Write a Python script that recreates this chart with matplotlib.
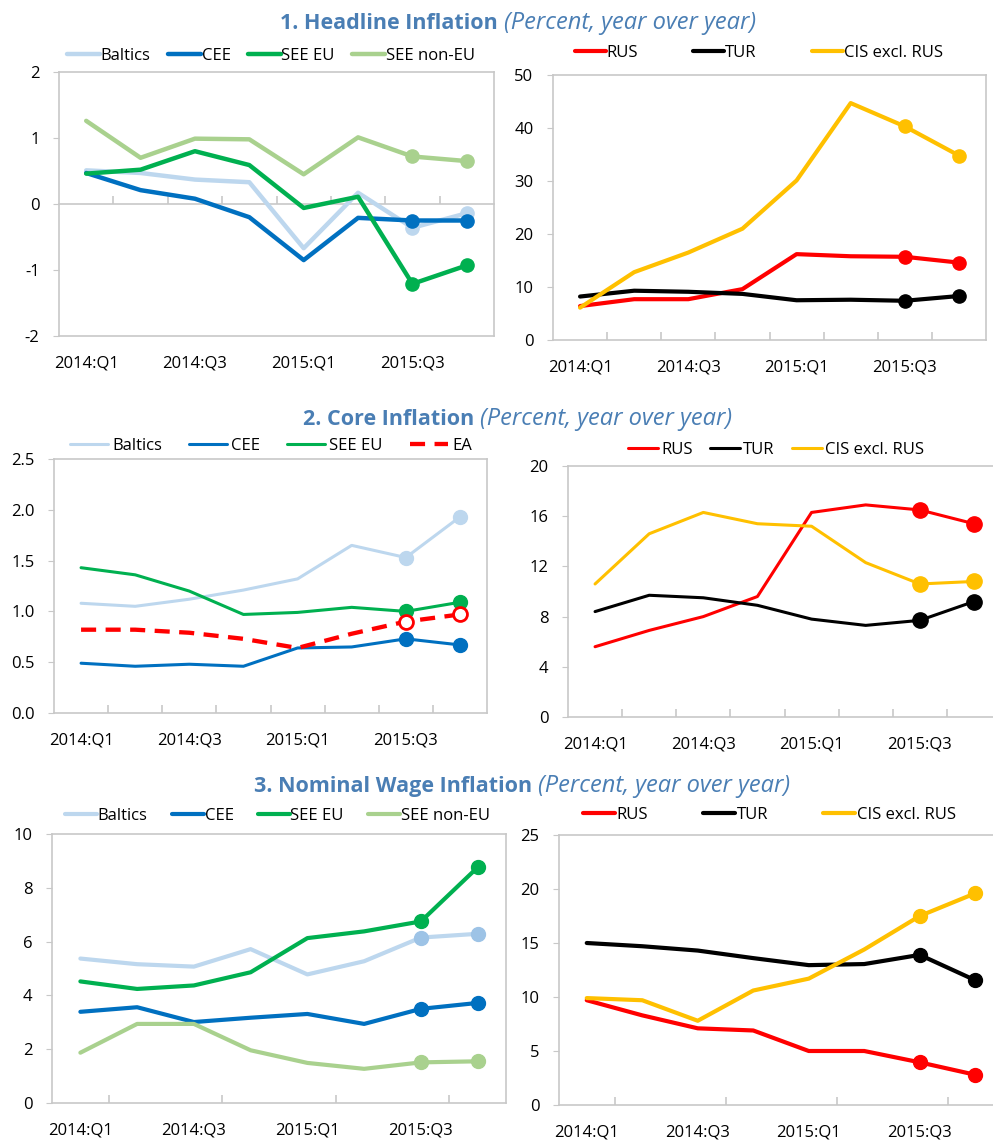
import matplotlib
matplotlib.use("Agg")
import matplotlib.pyplot as plt
import numpy as np

plt.rcParams["font.family"] = ["Open Sans", "DejaVu Sans"]
plt.rcParams["axes.unicode_minus"] = False

quarters = ["2014:Q1", "2014:Q2", "2014:Q3", "2014:Q4",
            "2015:Q1", "2015:Q2", "2015:Q3", "2015:Q4"]

# 1. headline inflation
head_baltics = [0.51, 0.47, 0.37, 0.33, -0.67, 0.17, -0.36, -0.14]
head_cee = [0.47, 0.21, 0.08, -0.20, -0.85, -0.21, -0.25, -0.25]
head_see_eu = [0.46, 0.52, 0.80, 0.59, -0.06, 0.11, -1.21, -0.93]
head_see_noneu = [1.26, 0.70, 0.99, 0.98, 0.45, 1.01, 0.72, 0.65]
head_rus = [6.4, 7.7, 7.7, 9.6, 16.2, 15.8, 15.7, 14.6]
head_tur = [8.2, 9.3, 9.1, 8.7, 7.5, 7.6, 7.4, 8.3]
head_cis = [6.1, 12.8, 16.5, 21.0, 30.1, 44.7, 40.3, 34.8]

# 2. core inflation
core_baltics = [1.08, 1.05, 1.12, 1.21, 1.32, 1.65, 1.53, 1.93]
core_cee = [0.49, 0.46, 0.48, 0.46, 0.64, 0.65, 0.73, 0.67]
core_see_eu = [1.43, 1.36, 1.20, 0.97, 0.99, 1.04, 1.00, 1.09]
core_ea = [0.82, 0.82, 0.79, 0.73, 0.64, 0.78, 0.90, 0.97]
core_rus = [5.6, 6.9, 8.0, 9.6, 16.3, 16.9, 16.5, 15.4]
core_tur = [8.4, 9.7, 9.5, 8.9, 7.8, 7.3, 7.7, 9.2]
core_cis = [10.6, 14.6, 16.3, 15.4, 15.2, 12.3, 10.6, 10.8]

# 3. nominal wage inflation
wage_baltics = [5.37, 5.16, 5.07, 5.72, 4.78, 5.27, 6.15, 6.29]
wage_cee = [3.39, 3.56, 3.01, 3.17, 3.31, 2.94, 3.50, 3.72]
wage_see_eu = [4.52, 4.24, 4.37, 4.86, 6.13, 6.38, 6.75, 8.76]
wage_see_noneu = [1.87, 2.94, 2.94, 1.96, 1.49, 1.27, 1.51, 1.55]
wage_rus = [9.7, 8.3, 7.1, 6.9, 5.0, 5.0, 3.95, 2.8]
wage_tur = [15.0, 14.7, 14.3, 13.6, 12.95, 13.05, 13.9, 11.55]
wage_cis = [9.9, 9.7, 7.8, 10.6, 11.7, 14.4, 17.5, 19.6]

colors = {
    "Baltics": "#BDD7EE",
    "CEE": "#0070C0",
    "SEE EU": "#00B050",
    "SEE non-EU": "#A9D18E",
    "EA": "#FF0000",
    "RUS": "#FF0000",
    "TUR": "#000000",
    "CIS excl. RUS": "#FFC000",
}
title_color = "#4A7EB4"
spine_color = "#C8C8C8"
FS = 12

W, H = 993, 1141
fig = plt.figure(figsize=(W / 100, H / 100), dpi=100)


def px_axes(x0, y0, x1, y1):
    return fig.add_axes([x0 / W, 1 - y1 / H, (x1 - x0) / W, (y1 - y0) / H])


def panel(ax, series, ylim, ystep, yfmt, lw, ms, tick_every, leg_xy, leg_opts,
          marker_colors=None):
    marker_colors = marker_colors or {}
    x = np.arange(len(quarters))
    for name, vals in series:
        c = colors[name]
        mc = marker_colors.get(name, c)
        if name == "EA":
            ax.plot(x, vals, color=c, lw=lw + 0.9, dashes=(3.5, 2.2), label=name,
                    dash_capstyle="butt")
            ax.plot(x[6:], vals[6:], "o", ms=ms, mfc="white", mec=c, mew=2)
        else:
            ax.plot(x, vals, color=c, lw=lw, label=name,
                    solid_joinstyle="round", solid_capstyle="round")
            ax.plot(x[6:], vals[6:], "o", ms=ms, color=mc)

    ax.set_xlim(-0.5, len(quarters) - 0.5)
    ax.set_ylim(*ylim)
    ax.set_yticks(np.arange(ylim[0], ylim[1] + ystep / 2, ystep))
    ax.yaxis.set_major_formatter(yfmt)
    ax.set_xticks(x[::2])
    ax.set_xticklabels(quarters[::2])
    ax.tick_params(axis="x", which="major", length=0, pad=14, labelsize=FS)
    ax.tick_params(axis="y", length=4, color=spine_color, pad=10, labelsize=FS)
    for s in ax.spines.values():
        s.set_color(spine_color)
        s.set_linewidth(1.2)

    bounds = np.arange(0.5, len(quarters) - 0.5, tick_every)
    if ylim[0] < 0:
        # category axis crosses at zero
        frac = (0 - ylim[0]) / (ylim[1] - ylim[0])
        sec = ax.secondary_xaxis(frac)
        sec.set_alignment("top")
        for s in sec.spines.values():
            s.set_color(spine_color)
            s.set_linewidth(1.2)
        sec.set_xticks(bounds, labels=[""] * len(bounds))
        sec.tick_params(direction="out", length=6, color=spine_color, width=1.2,
                        labeltop=False, labelbottom=False)
    else:
        ax.set_xticks(bounds, minor=True)
        ax.tick_params(axis="x", which="minor", direction="in", length=6,
                       color=spine_color, width=1.2)

    ax.legend(loc="center left", bbox_to_anchor=(leg_xy[0] / W, 1 - leg_xy[1] / H),
              bbox_transform=fig.transFigure, ncol=len(series), frameon=False,
              fontsize=FS, borderpad=0, borderaxespad=0, **leg_opts)


fmt_int = matplotlib.ticker.FormatStrFormatter("%d")
fmt_1 = matplotlib.ticker.FormatStrFormatter("%.1f")
hpx = FS * 100 / 72

# row 1
ax = px_axes(59, 72, 494, 336)
panel(ax, [("Baltics", head_baltics), ("CEE", head_cee),
           ("SEE EU", head_see_eu), ("SEE non-EU", head_see_noneu)],
      (-2, 2), 1, fmt_int, 3.2, 9.5, 1, (67, 56),
      dict(handlelength=33 / hpx, handletextpad=0.05, columnspacing=17 / hpx))
ax = px_axes(553, 75, 986, 340)
panel(ax, [("RUS", head_rus), ("TUR", head_tur), ("CIS excl. RUS", head_cis)],
      (0, 50), 10, fmt_int, 3.0, 9.5, 1, (575, 53),
      dict(handlelength=31 / hpx, handletextpad=0.05, columnspacing=55 / hpx))

# row 2
ax = px_axes(54, 459, 487, 713)
panel(ax, [("Baltics", core_baltics), ("CEE", core_cee),
           ("SEE EU", core_see_eu), ("EA", core_ea)],
      (0, 2.5), 0.5, fmt_1, 2.2, 10, 1, (70, 446),
      dict(handlelength=38 / hpx, handletextpad=0.25, columnspacing=27 / hpx))
ax = px_axes(568, 466, 1001, 717)
panel(ax, [("RUS", core_rus), ("TUR", core_tur), ("CIS excl. RUS", core_cis)],
      (0, 20), 4, fmt_int, 2.2, 11, 1, (628, 450),
      dict(handlelength=30 / hpx, handletextpad=0.2, columnspacing=17 / hpx))

# row 3
ax = px_axes(52, 834, 506, 1103)
panel(ax, [("Baltics", wage_baltics), ("CEE", wage_cee),
           ("SEE EU", wage_see_eu), ("SEE non-EU", wage_see_noneu)],
      (0, 10), 2, fmt_int, 3.0, 10, 2, (65, 816),
      dict(handlelength=32 / hpx, handletextpad=0.05, columnspacing=24 / hpx),
      marker_colors={"Baltics": "#9DC3E6"})
ax = px_axes(559, 835, 1003, 1105)
panel(ax, [("RUS", wage_rus), ("TUR", wage_tur), ("CIS excl. RUS", wage_cis)],
      (0, 25), 5, fmt_int, 3.0, 10, 2, (583, 815),
      dict(handlelength=32 / hpx, handletextpad=0.1, columnspacing=55 / hpx))

# section titles: bold part ends where the italic part starts
titles = [(29, 500, "1. Headline Inflation"),
          (425, 476, "2. Core Inflation"),
          (792, 534, "3. Nominal Wage Inflation")]
for ypx, split, bold in titles:
    fig.text((split - 2) / W, 1 - ypx / H, bold, fontsize=15.5, fontweight="bold",
             color=title_color, va="baseline", ha="right")
    fig.text((split + 4) / W, 1 - ypx / H, "(Percent, year over year)",
             fontsize=17, style="italic", color=title_color,
             va="baseline", ha="left")

fig.savefig("out.png", dpi=100)
